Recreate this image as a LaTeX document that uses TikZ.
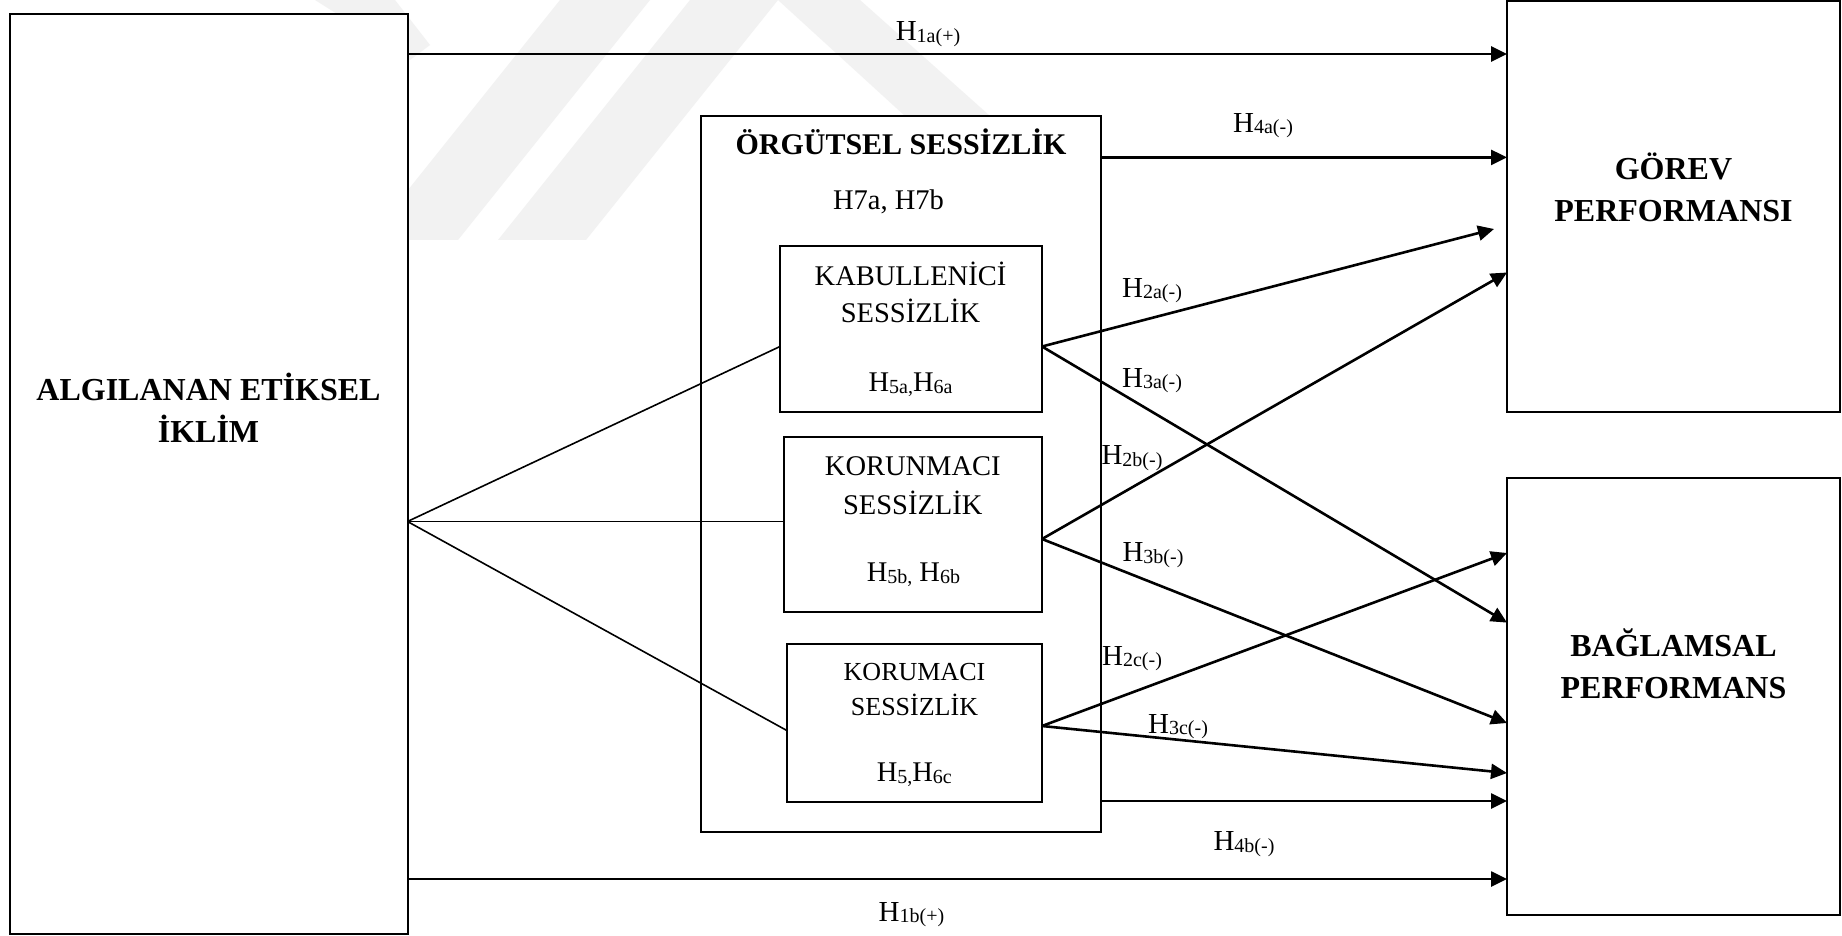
\documentclass[tikz,border=0pt]{standalone}
\usepackage{fontspec}
\setmainfont{Liberation Serif}
\usetikzlibrary{arrows.meta}
\newcommand{\sbx}[1]{\raisebox{-1.5pt}{\fontsize{20}{20}\selectfont #1}}
\begin{document}
\begin{tikzpicture}[x=1pt,y=-1pt,
 box/.style={draw,line width=2pt,fill=white,inner sep=0pt,outer sep=0pt},
 arr/.style={line width=2.6pt,-{Triangle[length=16pt,width=15pt]}},
 fanln/.style={line width=1.6pt},
 rt/.style={font=\fontsize{28.5}{34}\selectfont,anchor=base,inner sep=0pt},
 st/.style={font=\fontsize{26}{30}\selectfont,anchor=base,inner sep=0pt},
 bt/.style={font=\fontsize{32}{38}\selectfont\bfseries,anchor=base,inner sep=0pt},
 ot/.style={font=\fontsize{30}{36}\selectfont\bfseries,anchor=base,inner sep=0pt},
 lab/.style={font=\fontsize{29}{34}\selectfont,anchor=base,inner sep=0pt},
 wm/.style={fill=black!5,draw=none}]
\useasboundingbox (0,0) rectangle (1842,936);
\fill[white] (0,0) rectangle (1842,936);
% faint watermark
\fill[wm] (560,0) -- (650,0) -- (458,240) -- (368,240) -- cycle;
\fill[wm] (690,0) -- (778,0) -- (586,240) -- (498,240) -- cycle;
\fill[wm] (778,0) -- (860,0) -- (990,116) -- (905,116) -- cycle;
\fill[wm] (315,0) -- (395,0) -- (430,45) -- (410,60) -- cycle;

% boxes
\node[box,minimum width=398pt,minimum height=920pt] (alg) at (208.5,474) {};
\node[box,minimum width=333pt,minimum height=411pt] (gorev) at (1673.5,206.5) {};
\node[box,minimum width=333pt,minimum height=437pt] (bag) at (1673.5,696.5) {};
\node[box,minimum width=400pt,minimum height=716pt] (org) at (901,474) {};
\node[box,minimum width=262pt,minimum height=166pt] (kab) at (911,329) {};
\node[box,minimum width=258.5pt,minimum height=175pt] (kor) at (912.75,524.5) {};
\node[box,minimum width=255pt,minimum height=158pt] (kom) at (914.5,723) {};

% box texts
\node[bt] (algt1) at (208.5,400) {ALGILANAN ETİKSEL};
\node[bt] (algt2) at (208.5,442.5) {İKLİM};
\node[bt] (gort1) at (1673.5,180) {GÖREV};
\node[bt] (gort2) at (1673.5,221.5) {PERFORMANSI};
\node[bt] (bagt1) at (1673.5,656.5) {BAĞLAMSAL};
\node[bt] (bagt2) at (1673.5,698) {PERFORMANS};
\node[ot] (orgt1) at (901,155) {ÖRGÜTSEL SESSİZLİK};
\node[rt] (orgt2) at (888.5,210) {H7a, H7b};
\node[rt] (kabt1) at (910.5,285) {KABULLENİCİ};
\node[rt] (kabt2) at (910.5,322.5) {SESSİZLİK};
\node[rt] (kabt3) at (910.5,391.5) {H\sbx{5a,}H\sbx{6a}};
\node[rt] (kort1) at (912.8,475) {KORUNMACI};
\node[rt] (kort2) at (912.8,514) {SESSİZLİK};
\node[rt] (kort3) at (913.4,581.5) {H\sbx{5b,} H\sbx{6b}};
\node[st] (komt1) at (914.5,680) {KORUMACI};
\node[st] (komt2) at (914.5,715) {SESSİZLİK};
\node[rt] (komt3) at (914.3,781.5) {H\sbx{5,}H\sbx{6c}};

% fan lines
\coordinate (fan) at (alg.east |- 0,521.5);
\draw[fanln] (fan) -- (kab.west |- 0,346.5);
\draw[fanln] (fan) -- (kor.west |- 0,521.5);
\draw[fanln] (fan) -- (kom.west |- 0,730.6);

% straight arrows
\draw[arr] (alg.east |- 0,54) -- (gorev.west |- 0,54);
\draw[arr] (org.east |- 0,157.4) -- (gorev.west |- 0,157.4);
\draw[arr] (org.east |- 0,801) -- (bag.west |- 0,801);
\draw[arr] (alg.east |- 0,879) -- (bag.west |- 0,879);

% diagonal arrows
\coordinate (kabo) at (kab.east |- 0,346.5);
\coordinate (koro) at (kor.east |- 0,539);
\coordinate (komo) at (kom.east |- 0,726);
\coordinate (h2aend) at (1494,229);
\draw[arr] (kabo) -- (h2aend);
\draw[arr] (kabo) -- (bag.west |- 0,622.6);
\draw[arr] (koro) -- (gorev.west |- 0,272.5);
\draw[arr] (koro) -- (bag.west |- 0,723);
\draw[arr] (komo) -- (bag.west |- 0,553);
\draw[arr] (komo) -- (bag.west |- 0,773);

% labels
\node[lab] (l1a) at (928,41) {H\sbx{1a(+)}};
\node[lab] (l4a) at (1263,132.5) {H\sbx{4a(-)}};
\node[lab] (l2a) at (1152,297.5) {H\sbx{2a(-)}};
\node[lab] (l3a) at (1152,387) {H\sbx{3a(-)}};
\node[lab] (l2b) at (1132,464.5) {H\sbx{2b(-)}};
\node[lab] (l3b) at (1153,561.5) {H\sbx{3b(-)}};
\node[lab] (l2c) at (1132,665) {H\sbx{2c(-)}};
\node[lab] (l3c) at (1178,733) {H\sbx{3c(-)}};
\node[lab] (l4b) at (1244,850.5) {H\sbx{4b(-)}};
\node[lab] (l1b) at (911.5,921) {H\sbx{1b(+)}};
\end{tikzpicture}
\end{document}
